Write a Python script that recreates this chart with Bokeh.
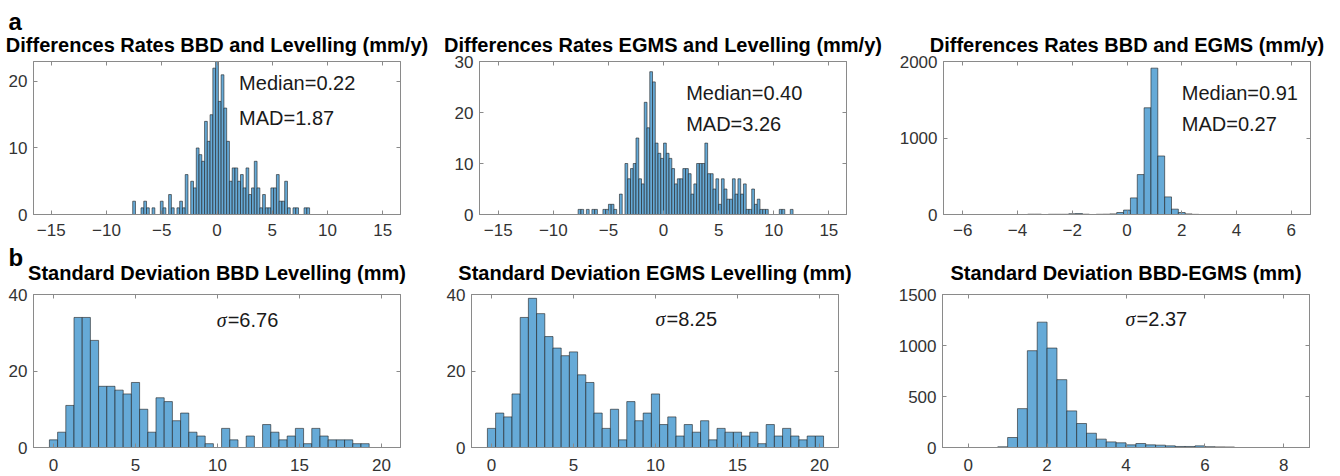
from bokeh.plotting import figure
from bokeh.models import Range1d, FixedTicker, LinearAxis, Label, Title
from bokeh.layouts import row, column
from bokeh.embed import file_html
from bokeh.resources import INLINE

FONT = "Liberation Sans"
BAR_FILL = "#66AAD7"
BAR_LINE = "#1f1f1f"
FRAME = "#8a8a8a"
TICK_TXT = "#333333"

# ---------------- data (histogram counts) ----------------
# a1: Differences Rates BBD and Levelling, bins of 0.25 mm/y, first bin left edge -7.625
a1_title = "Differences Rates BBD and Levelling (mm/y)"
a1_start, a1_bin = -7.625, 0.25
a1_counts = [2, 0, 0, 1, 2, 1, 0, 1, 0, 0, 2, 1, 0, 3, 1, 0, 1, 2, 1, 6,
             0, 5, 4, 10, 9, 8, 14, 11, 15, 22, 23, 17, 21, 16, 11, 5, 7, 7, 5, 6,
             4, 7, 3, 4, 8, 4, 1, 3, 1, 1, 4, 4, 6, 2, 2, 5, 1, 0, 1, 1,
             0, 0, 1, 1]
a1_notes = ["Median=0.22", "MAD=1.87"]

# a2: Differences Rates EGMS and Levelling, first bin left edge -7.75
a2_title = "Differences Rates EGMS and Levelling (mm/y)"
a2_start, a2_bin = -7.75, 0.25
a2_counts = [1, 1, 0, 1, 0, 1, 1, 0, 0, 1, 1, 2, 2, 1, 0, 4, 0, 10, 7, 9,
             10, 15, 7, 6, 22, 17, 28, 26, 14, 12, 11, 14, 12, 11, 9, 6, 7, 7, 9, 9,
             8, 4, 6, 10, 10, 10, 14, 8, 8, 5, 7, 2, 7, 5, 3, 3, 7, 4, 7, 4,
             6, 1, 1, 5, 2, 3, 1, 1, 1, 0, 0, 0, 0, 1, 1, 0, 0, 1]
a2_notes = ["Median=0.40", "MAD=3.26"]

# a3: Differences Rates BBD and EGMS, first bin left edge -3.625
a3_title = "Differences Rates BBD and EGMS (mm/y)"
a3_start, a3_bin = -3.625, 0.25
a3_counts = [4, 4, 0, 3, 3, 3, 10, 12, 4, 0, 3, 4, 8, 26, 58, 217, 522, 1395, 1913, 765,
             230, 70, 26, 8, 2]
a3_notes = ["Median=0.91", "MAD=0.27"]

# b1: Standard Deviation BBD Levelling, bins of 0.5 mm, first bin left edge -0.25
b1_title = "Standard Deviation BBD Levelling (mm)"
b1_start, b1_bin = -0.25, 0.5
b1_counts = [2, 4, 11, 34, 34, 28, 16, 16, 15, 14, 17, 10, 4, 13, 12, 7, 9, 4, 3, 1,
             0, 5, 2, 0, 3, 0, 6, 4, 2, 3, 5, 1, 5, 3, 2, 2, 2, 1, 1]
b1_sigma = "=6.76"

# b2: Standard Deviation EGMS Levelling
b2_title = "Standard Deviation EGMS Levelling (mm)"
b2_start, b2_bin = -0.25, 0.5
b2_counts = [5, 9, 8, 14, 34, 39, 35, 29, 26, 24, 25, 19, 17, 9, 5, 10, 2, 12, 7, 9,
             14, 6, 8, 3, 6, 4, 7, 2, 5, 4, 4, 3, 4, 1, 6, 3, 5, 3, 2, 3, 3]
b2_sigma = "=8.25"

# b3: Standard Deviation BBD-EGMS, bins of 0.25 mm, first bin left edge 0.75
b3_title = "Standard Deviation BBD-EGMS (mm)"
b3_start, b3_bin = 0.75, 0.25
b3_counts = [7, 98, 381, 949, 1229, 975, 665, 359, 235, 140, 82, 55, 46, 26, 39, 26, 23, 16, 10, 10,
             16, 8, 6, 5]
b3_sigma = "=2.37"

x_ticks_rates = [-15, -10, -5, 0, 5, 10, 15]
x_ticks_bbd_egms = [-6, -4, -2, 0, 2, 4, 6]
x_ticks_std = [0, 5, 10, 15, 20]
x_ticks_std3 = [0, 2, 4, 6, 8]


def panel(title, counts, start, binw, xr, yr, xticks, yticks, w, h, bl, br, bt, bb,
          xstand, title_standoff):
    lefts, rights, tops = [], [], []
    for i, c in enumerate(counts):
        if c > 0:
            lefts.append(start + binw * i)
            rights.append(start + binw * (i + 1))
            tops.append(c)
    p = figure(width=w, height=h, x_range=Range1d(*xr), y_range=Range1d(*yr),
               output_backend="svg", toolbar_location=None, title=None,
               min_border_left=bl, min_border_right=br, min_border_top=bt,
               min_border_bottom=bb)
    p.quad(left=lefts, right=rights, bottom=0, top=tops, fill_color=BAR_FILL,
           line_color=BAR_LINE, line_width=0.6)
    p.xgrid.visible = False
    p.ygrid.visible = False
    p.outline_line_color = FRAME
    p.outline_line_width = 1
    p.background_fill_color = "white"
    p.border_fill_color = "white"

    for ax, ticks, stand in ((p.xaxis[0], xticks, xstand), (p.yaxis[0], yticks, 6)):
        ax.ticker = FixedTicker(ticks=ticks)
        ax.major_tick_in = 4
        ax.major_tick_out = 0
        ax.minor_tick_line_color = None
        ax.major_tick_line_color = FRAME
        ax.axis_line_color = FRAME
        ax.major_label_text_font = FONT
        ax.major_label_text_font_size = "17px"
        ax.major_label_text_color = TICK_TXT
        ax.major_label_standoff = stand
    # box ticks on the right
    right = LinearAxis(ticker=FixedTicker(ticks=yticks),
                       major_label_overrides={t: "" for t in yticks},
                       major_label_text_font_size="0px",
                       major_tick_in=4, major_tick_out=0, minor_tick_line_color=None,
                       major_tick_line_color=FRAME, axis_line_color=FRAME,
                       major_label_standoff=0)
    p.add_layout(right, "right")
    # box ticks on top, carrying the panel title as its label
    top = LinearAxis(ticker=FixedTicker(ticks=xticks),
                     major_label_overrides={t: "" for t in xticks},
                     major_label_text_font_size="0px",
                     major_tick_in=4, major_tick_out=0, minor_tick_line_color=None,
                     major_tick_line_color=FRAME, axis_line_color=FRAME,
                     major_label_standoff=0,
                     axis_label=title, axis_label_standoff=title_standoff,
                     axis_label_text_font=FONT, axis_label_text_font_size="20px",
                     axis_label_text_font_style="bold", axis_label_text_color="black")
    p.add_layout(top, "above")
    return p


def notes(p, x, ys, texts):
    for y, t in zip(ys, texts):
        p.add_layout(Label(x=x, y=y, text=t, text_font=FONT, text_font_size="20px",
                           text_color="#1a1a1a", text_align="left",
                           text_baseline="middle"))


def sigma(p, x, y, text):
    p.add_layout(Label(x=x, y=y, text="σ", text_font="Liberation Serif",
                       text_font_style="italic", text_font_size="20px",
                       text_color="#1a1a1a", text_align="left",
                       text_baseline="middle"))
    p.add_layout(Label(x=x, y=y, x_offset=11, text=text, text_font=FONT,
                       text_font_size="20px", text_color="#1a1a1a",
                       text_align="left", text_baseline="middle"))


def panel_letter(p, text, standoff):
    p.add_layout(Title(text=text, align="left", offset=-25, standoff=standoff,
                       text_font=FONT, text_font_style="bold", text_font_size="24px",
                       text_color="black"), "above")


TOP_H, BOT_H = 243, 233

p1 = panel(a1_title, a1_counts, a1_start, a1_bin, (-16.6, 16.6), (0, 23), x_ticks_rates,
           [0, 10, 20], 440, TOP_H, 33, 40, 61, 29, 9, 6)
notes(p1, 2, [19.7, 14.5], a1_notes)
panel_letter(p1, "a", -8)

p2 = panel(a2_title, a2_counts, a2_start, a2_bin, (-16.7, 16.6), (0, 30), x_ticks_rates,
           [0, 10, 20, 30], 450, TOP_H, 39, 44, 61, 29, 9, 6)
notes(p2, 2.05, [23.75, 17.77], a2_notes)

p3 = panel(a3_title, a3_counts, a3_start, a3_bin, (-6.7, 6.7), (0, 2000), x_ticks_bbd_egms,
           [0, 1000, 2000], 450, TOP_H, 53, 30, 61, 29, 9, 6)
notes(p3, 2, [1586, 1187], a3_notes)

p4 = panel(b1_title, b1_counts, b1_start, b1_bin, (-1.22, 21.16), (0, 40), x_ticks_std,
           [0, 20, 40], 440, BOT_H, 33, 40, 51, 29, 11, 11)
sigma(p4, 9.95, 33.3, b1_sigma)
panel_letter(p4, "b", -24)

p5 = panel(b2_title, b2_counts, b2_start, b2_bin, (-1.22, 21.16), (0, 40), x_ticks_std,
           [0, 20, 40], 450, BOT_H, 31, 52, 51, 29, 11, 11)
sigma(p5, 10.0, 33.5, b2_sigma)

p6 = panel(b3_title, b3_counts, b3_start, b3_bin, (-0.65, 8.65), (0, 1500), x_ticks_std3,
           [0, 500, 1000, 1500], 450, BOT_H, 52, 31, 51, 29, 11, 11)
sigma(p6, 3.99, 1255, b3_sigma)

layout = column(row(p1, p2, p3), row(p4, p5, p6))
open("out.html", "w").write(file_html(layout, INLINE))
